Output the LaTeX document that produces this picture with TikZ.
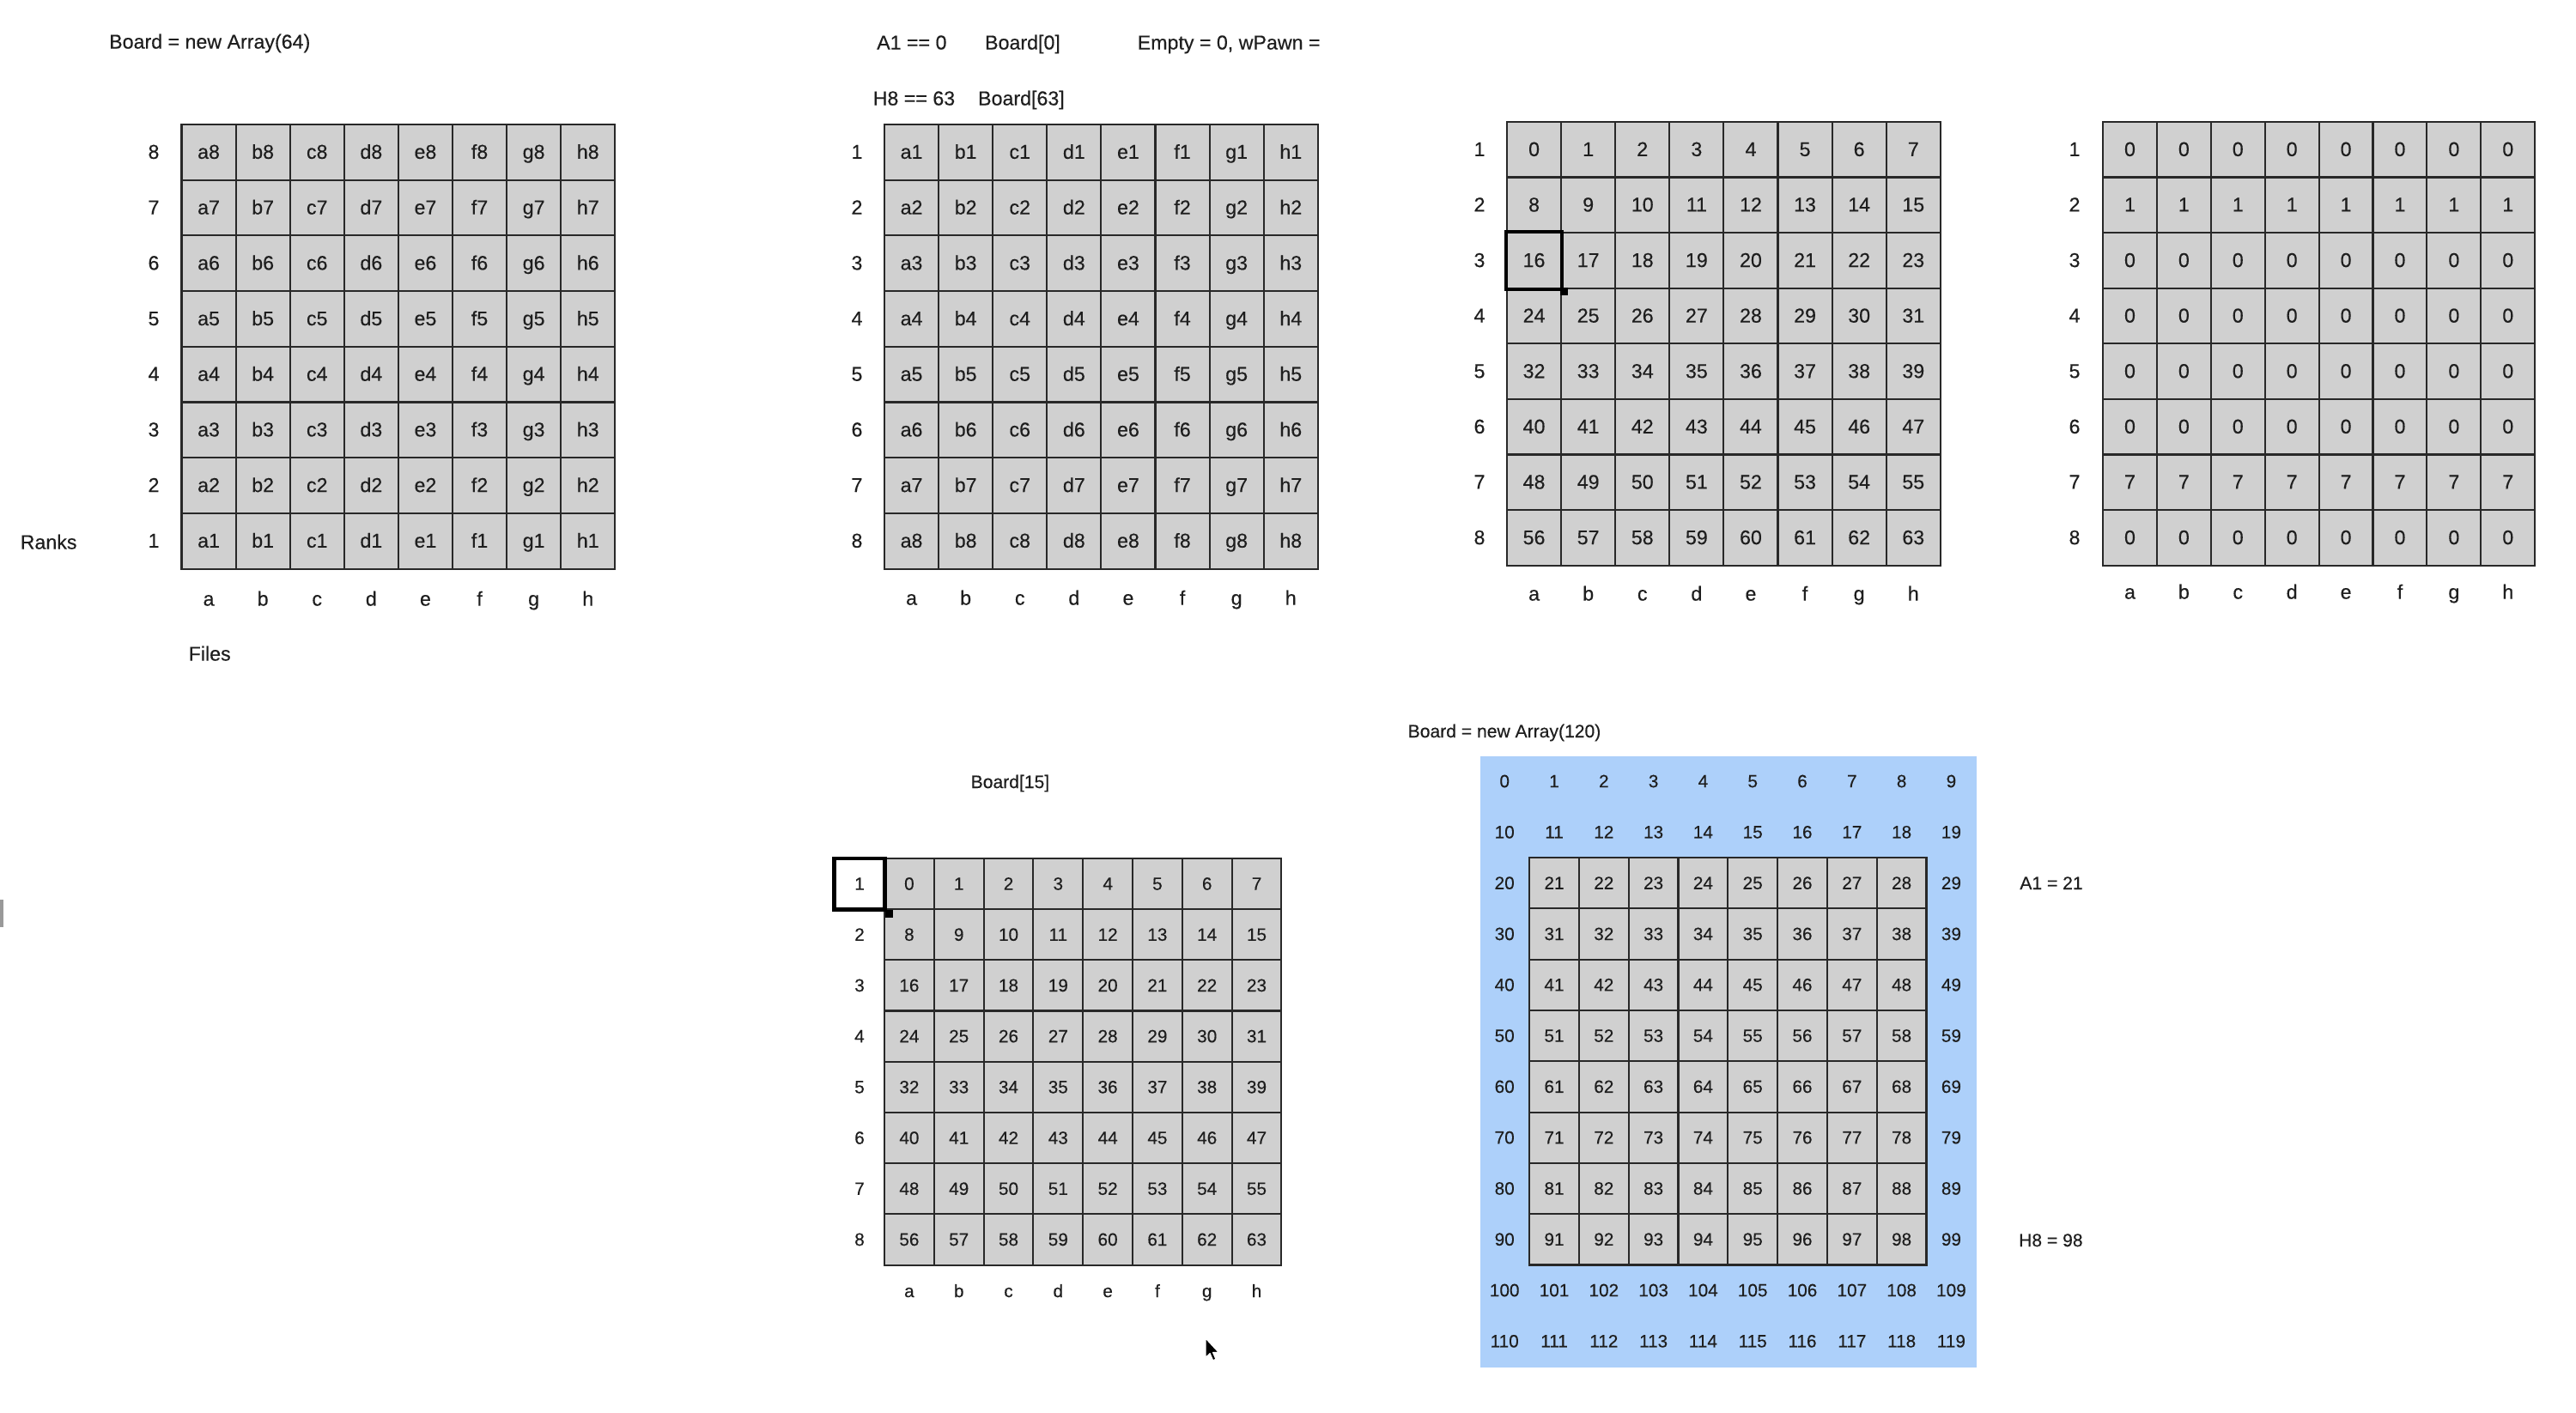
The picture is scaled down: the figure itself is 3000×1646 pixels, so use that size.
\documentclass[tikz,border=0pt]{standalone}
\usepackage{fontspec}
\setmainfont{Liberation Sans}[FakeBold=0.3]
\definecolor{cellgray}{RGB}{208,208,208}
\definecolor{boardblue}{RGB}{173,208,250}
\definecolor{ink}{RGB}{30,30,30}
\definecolor{gridline}{RGB}{40,40,40}
\begin{document}
\begin{tikzpicture}[x=0.01cm,y=-0.01cm,
  bigtxt/.style={font=\fontsize{6.6}{8}\selectfont, text=ink, inner sep=0pt, text height=4.3pt, text depth=0pt},
  smalltxt/.style={font=\fontsize{5.9}{7}\selectfont, text=ink, inner sep=0pt, text height=4.0pt, text depth=0pt},
  bigcell/.style={bigtxt, draw=gridline, fill=cellgray, line width=0.6pt, minimum width=0.631cm, minimum height=0.647cm, anchor=center},
  smallcell/.style={smalltxt, draw=gridline, fill=cellgray, line width=0.6pt, minimum width=0.578cm, minimum height=0.593cm, anchor=center},
  selbox/.style={draw=black, line width=1.3pt},
  handle/.style={fill=black, draw=none}
]
\useasboundingbox (0,0) rectangle (3000,1646);
\fill[white] (0,0) rectangle (3000,1646);
\fill[black!40] (0,1048) rectangle (4,1080);

% ---------------- Board 1 ----------------
\node[bigtxt, anchor=west] (t1) at (126.5,49) {Board = new Array(64)};
\node[bigtxt, anchor=west] (ranks) at (23,632) {Ranks};
\node[bigtxt, anchor=west] (files) at (219,762) {Files};
\foreach \fl [count=\ci from 0] in {a,b,c,d,e,f,g,h} {
  \foreach \r in {0,...,7} {
    \pgfmathtruncatemacro\rk{8-\r}
    \node[bigcell] (b1-\r-\ci) at ({211.5+(\ci+0.5)*63.1},{145+(\r+0.5)*64.7}) {\fl\rk};
  }
  \node[bigtxt] (b1f-\ci) at ({211.5+(\ci+0.5)*63.1},698) {\fl};
}
\foreach \r in {0,...,7} {
  \pgfmathtruncatemacro\rk{8-\r}
  \node[bigtxt] (b1r-\r) at (179,{145+(\r+0.5)*64.7}) {\rk};
}

% ---------------- Board 2 ----------------
\node[bigtxt, anchor=west] (t2a) at (1020.5,50) {A1 == 0};
\node[bigtxt, anchor=west] (t2b) at (1146.4,50) {Board[0]};
\node[bigtxt, anchor=west] (t2c) at (1324,50) {Empty = 0, wPawn =};
\node[bigtxt, anchor=west] (t2d) at (1016,115) {H8 == 63};
\node[bigtxt, anchor=west] (t2e) at (1138.4,115) {Board[63]};
\foreach \fl [count=\ci from 0] in {a,b,c,d,e,f,g,h} {
  \foreach \r in {0,...,7} {
    \pgfmathtruncatemacro\rk{\r+1}
    \node[bigcell] (b2-\r-\ci) at ({1030+(\ci+0.5)*63.1},{145+(\r+0.5)*64.7}) {\fl\rk};
  }
  \node[bigtxt] (b2f-\ci) at ({1030+(\ci+0.5)*63.1},697) {\fl};
}
\foreach \r in {0,...,7} {
  \pgfmathtruncatemacro\rk{\r+1}
  \node[bigtxt] (b2r-\r) at (998,{145+(\r+0.5)*64.7}) {\rk};
}

% ---------------- Board 3 ----------------
\foreach \fl [count=\ci from 0] in {a,b,c,d,e,f,g,h} {
  \foreach \r in {0,...,7} {
    \pgfmathtruncatemacro\n{8*\r+\ci}
    \node[bigcell] (b3-\r-\ci) at ({1755+(\ci+0.5)*63.1},{142+(\r+0.5)*64.6}) {\n};
  }
  \node[bigtxt] (b3f-\ci) at ({1755+(\ci+0.5)*63.1},692) {\fl};
}
\foreach \r in {0,...,7} {
  \pgfmathtruncatemacro\rk{\r+1}
  \node[bigtxt] (b3r-\r) at (1723,{142+(\r+0.5)*64.6}) {\rk};
}
\draw[selbox] (b3-2-0.north west) rectangle (b3-2-0.south east);
\fill[handle] ([xshift=-0.02cm,yshift=0.02cm]b3-2-0.south east) rectangle ([xshift=0.07cm,yshift=-0.07cm]b3-2-0.south east);

% ---------------- Board 4 ----------------
\foreach \fl [count=\ci from 0] in {a,b,c,d,e,f,g,h} {
  \foreach \r in {0,...,7} {
    \pgfmathtruncatemacro\v{(\r==1)?1:((\r==6)?7:0)}
    \node[bigcell, minimum width=0.629cm] (b4-\r-\ci) at ({2449+(\ci+0.5)*62.9},{142+(\r+0.5)*64.6}) {\v};
  }
  \node[bigtxt] (b4f-\ci) at ({2449+(\ci+0.5)*62.9},690) {\fl};
}
\foreach \r in {0,...,7} {
  \pgfmathtruncatemacro\rk{\r+1}
  \node[bigtxt] (b4r-\r) at (2416,{142+(\r+0.5)*64.6}) {\rk};
}

% ---------------- Board 5 ----------------
\node[smalltxt, font=\fontsize{6.0}{7}\selectfont, anchor=west] (t5) at (1130,911) {Board[15]};
\foreach \fl [count=\ci from 0] in {a,b,c,d,e,f,g,h} {
  \foreach \r in {0,...,7} {
    \pgfmathtruncatemacro\n{8*\r+\ci}
    \node[smallcell] (b5-\r-\ci) at ({1030+(\ci+0.5)*57.8},{1000+(\r+0.5)*59.2}) {\n};
  }
  \node[smalltxt] (b5f-\ci) at ({1030+(\ci+0.5)*57.8},1504) {\fl};
}
\foreach \r in {1,...,7} {
  \pgfmathtruncatemacro\rk{\r+1}
  \node[smalltxt] (b5r-\r) at (1001,{1000+(\r+0.5)*59.2}) {\rk};
}
\node[smalltxt, draw=black, line width=1.3pt, minimum width=0.585cm, minimum height=0.592cm] (b5r-0) at (1001,{1000+0.5*59.2}) {1};
\fill[handle] ([xshift=-0.02cm,yshift=0.02cm]b5r-0.south east) rectangle ([xshift=0.07cm,yshift=-0.07cm]b5r-0.south east);

% ---------------- Board 120 ----------------
\node[smalltxt, font=\fontsize{6.0}{7}\selectfont, anchor=west] (t6) at (1639,852) {Board = new Array(120)};
\node[fill=boardblue, draw=none, inner sep=0pt, minimum width=5.78cm, minimum height=7.116cm, anchor=north west] (blue) at (1723.3,880.5) {};
\foreach \r in {0,...,11} {
  \foreach \cc in {0,...,9} {
    \pgfmathtruncatemacro\n{10*\r+\cc}
    \pgfmathtruncatemacro\inner{(\r>1)&&(\r<10)&&(\cc>0)&&(\cc<9)}
    \ifnum\inner=1
      \node[smallcell] (bb-\r-\cc) at ({1723.3+(\cc+0.5)*57.8},{880.5+(\r+0.5)*59.3}) {\n};
    \else
      \node[smalltxt] (bb-\r-\cc) at ({1723.3+(\cc+0.5)*57.8},{880.5+(\r+0.5)*59.3}) {\n};
    \fi
  }
}
\node[smalltxt, font=\fontsize{6.0}{7}\selectfont, anchor=west] (a1lab) at (2351.6,1029) {A1 = 21};
\node[smalltxt, font=\fontsize{6.0}{7}\selectfont, anchor=west] (h8lab) at (2350.4,1445) {H8 = 98};

% ---------------- mouse pointer ----------------
\begin{scope}[shift={(1404,1559)}, scale=1.35]
\filldraw[fill=black, draw=white, line width=0.3pt, line join=round]
  (0,0) -- (0,16.5) -- (3.8,13) -- (6.4,19) -- (8.8,18) -- (6.3,12.2) -- (11.3,12.2) -- cycle;
\end{scope}
\end{tikzpicture}
\end{document}
